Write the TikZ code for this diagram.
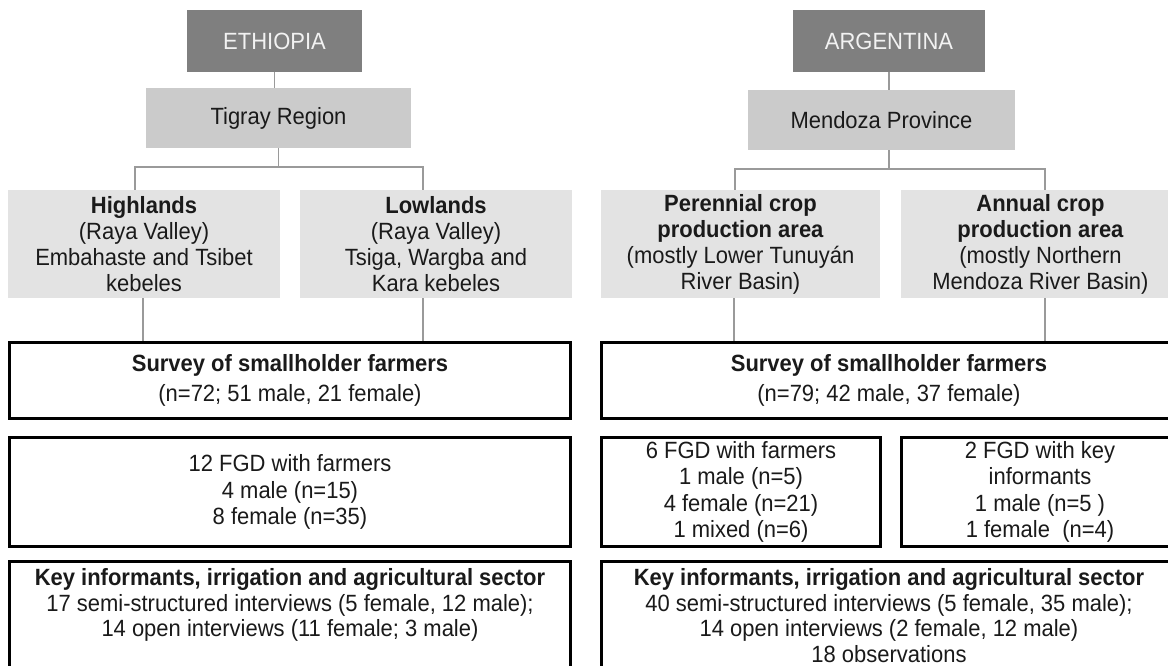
\documentclass[tikz,border=0pt]{standalone}
\usepackage{fontspec}
\setmainfont{Liberation Sans}[FakeStretch=0.935]
\definecolor{cgray}{HTML}{7F7F7F}
\definecolor{rgray}{HTML}{CBCBCB}
\definecolor{zgray}{HTML}{E3E3E3}
\definecolor{lgray}{HTML}{9A9A9A}
\definecolor{ink}{HTML}{1A1A1A}
\definecolor{ctext}{HTML}{F2F2F2}
\begin{document}
\begin{tikzpicture}[x=1pt,y=-1pt,
  every node/.style={font=\fontsize{23.5}{26.5}\selectfont, inner sep=0pt, text=ink},
  country/.style={fill=cgray, text=ctext, minimum width=175pt, minimum height=62pt},
  region/.style={fill=rgray, minimum width=265pt, minimum height=60pt},
  zone/.style={fill=zgray, align=center, minimum width=279pt, minimum height=108pt,
               font=\fontsize{23.5}{26}\selectfont},
  method/.style={draw=black, line width=3pt, fill=white, align=center},
  keytext/.style={anchor=north, align=center, font=\fontsize{23.5}{25.8}\selectfont},
  link/.style={draw=lgray, line width=1.6pt}]
\useasboundingbox (0,0) rectangle (1168,666);
\clip (0,0) rectangle (1168,666);

% ---------------- Ethiopia ----------------
\node[country] (eth) at (274.5,41) {ETHIOPIA};
\node[region] (tig) at (278.5,118) {Tigray Region};
\node[zone, minimum width=272pt] (high) at (144,244)
  {\textbf{Highlands}\\(Raya Valley)\\Embahaste and Tsibet\\kebeles};
\node[zone, minimum width=272pt] (low) at (436,244)
  {\textbf{Lowlands}\\(Raya Valley)\\Tsiga, Wargba and\\Kara kebeles};

\node[method, minimum width=561pt, minimum height=76pt] (survL) at (290,380.5)
  {\textbf{Survey of smallholder farmers}\\[3pt](n=72; 51 male, 21 female)};
\node[method, minimum width=561pt, minimum height=109pt] (fgdL) at (290,492)
  {12 FGD with farmers\\4 male (n=15)\\8 female (n=35)};
\node[method, minimum width=561pt, minimum height=150pt, anchor=north] (keyL) at (290,559.5) {};
\node[keytext] (keyLt) at (290,568)
  {\textbf{Key informants, irrigation and agricultural sector}\\
   17 semi-structured interviews (5 female, 12 male);\\
   14 open interviews (11 female; 3 male)};

\coordinate (bL1) at (135,167);
\coordinate (bL2) at (423,167);
\coordinate (dL1) at (143,0);
\draw[link] (eth.south) -- (eth.south |- tig.north);
\draw[link] (tig.south) -- (tig.south |- bL1);
\draw[link] (bL1 |- high.north) -- (bL1) -- (bL2) -- (bL2 |- low.north);
\draw[link] (dL1 |- high.south) -- (dL1 |- survL.north);
\draw[link] (bL2 |- low.south) -- (bL2 |- survL.north);

% ---------------- Argentina ----------------
\node[country, minimum width=192pt] (arg) at (889,41) {ARGENTINA};
\node[region, minimum width=267pt] (men) at (881.5,120) {Mendoza Province};
\node[zone] (per) at (740.5,244)
  {\textbf{Perennial crop}\\\textbf{production area}\\(mostly Lower Tunuyán\\River Basin)};
\node[zone] (ann) at (1040.5,244)
  {\textbf{Annual crop}\\\textbf{production area}\\(mostly Northern\\Mendoza River Basin)};

\node[method, minimum width=575pt, minimum height=76pt] (survR) at (889,380.5)
  {\textbf{Survey of smallholder farmers}\\[3pt](n=79; 42 male, 37 female)};
\node[method, minimum width=279pt, minimum height=109pt] (fgdA) at (741,492)
  {6 FGD with farmers\\1 male (n=5)\\4 female (n=21)\\1 mixed (n=6)};
\node[method, minimum width=277pt, minimum height=109pt] (fgdB) at (1040,492)
  {2 FGD with key\\informants\\1 male (n=5 )\\1 female\ \ (n=4)};
\node[method, minimum width=575pt, minimum height=150pt, anchor=north] (keyR) at (889,559.5) {};
\node[keytext] (keyRt) at (889,568)
  {\textbf{Key informants, irrigation and agricultural sector}\\
   40 semi-structured interviews (5 female, 35 male);\\
   14 open interviews (2 female, 12 male)\\
   18 observations};

\coordinate (bR1) at (735,169);
\coordinate (bR2) at (1045,169);
\coordinate (dR1) at (734,0);
\draw[link] (arg.south) -- (arg.south |- men.north);
\draw[link] (arg.south |- men.south) -- (arg.south |- bR1);
\draw[link] (bR1 |- per.north) -- (bR1) -- (bR2) -- (bR2 |- ann.north);
\draw[link] (dR1 |- per.south) -- (dR1 |- survR.north);
\draw[link] (bR2 |- ann.south) -- (bR2 |- survR.north);
\end{tikzpicture}
\end{document}
